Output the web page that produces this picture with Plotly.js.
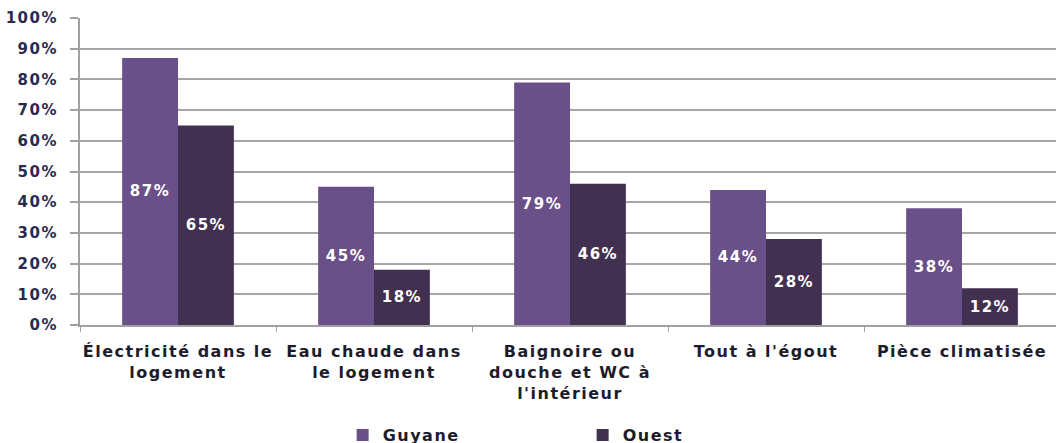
<!DOCTYPE html>
<html>
<head>
<meta charset="utf-8">
<script src="https://cdn.plot.ly/plotly-3.0.1.min.js"></script>
<style>
html, body { margin: 0; padding: 0; overflow: hidden; background: #fff; }
#chart { width: 1060px; height: 455px; }
#chart text { letter-spacing: 1.5px; }
</style>
</head>
<body>
<div id="chart"></div>
<script>
const categories = [
  "Électricité dans le<br>logement",
  "Eau chaude dans<br>le logement",
  "Baignoire ou<br>douche et WC à<br>l'intérieur",
  "Tout à l'égout",
  "Pièce climatisée"
];
const guyane = [87, 45, 79, 44, 38];
const ouest = [65, 18, 46, 28, 12];
const yTickVals = [0, 10, 20, 30, 40, 50, 60, 70, 80, 90, 100];
const yTickText = ["0%", "10%", "20%", "30%", "40%", "50%", "60%", "70%", "80%", "90%", "100%"];

const labelFont = { family: "DejaVu Sans", size: 15, color: "#ffffff", weight: "bold" };

const traces = [
  {
    type: "bar", name: "Guyane", x: categories, y: guyane,
    marker: { color: "#6A5088" },
    text: guyane.map(v => v + "%"), textposition: "inside", insidetextanchor: "middle",
    textfont: labelFont, hoverinfo: "skip", cliponaxis: false
  },
  {
    type: "bar", name: "Ouest", x: categories, y: ouest,
    marker: { color: "#41304F" },
    text: ouest.map(v => v + "%"), textposition: "inside", insidetextanchor: "middle",
    textfont: labelFont, hoverinfo: "skip", cliponaxis: false
  }
];

const layout = {
  width: 1060, height: 455,
  margin: { l: 80, r: 0, t: 18, b: 130 },
  paper_bgcolor: "#ffffff", plot_bgcolor: "#ffffff",
  font: { family: "DejaVu Sans", size: 16, color: "#1c1c2c" },
  barmode: "group", bargap: 0.43, bargroupgap: 0,
  showlegend: true,
  legend: {
    orientation: "h", x: 0.268, xanchor: "left", y: -0.3583, yanchor: "middle",
    entrywidth: 195, entrywidthmode: "pixels", traceorder: "normal",
    font: { family: "DejaVu Sans", size: 16, color: "#1c1c2c", weight: "bold" },
    itemwidth: 30
  },
  xaxis: {
    type: "category", showgrid: false, showline: true, linecolor: "#a0a0a0", linewidth: 2,
    ticks: "outside", ticklen: 5, tickcolor: "#a0a0a0", tickwidth: 1, tickson: "boundaries",
    tickfont: { family: "DejaVu Sans", size: 16, color: "#1c1c2c", weight: "bold" },
    ticklabelstandoff: 11, fixedrange: true
  },
  yaxis: {
    range: [0, 100], tickvals: yTickVals, ticktext: yTickText,
    showgrid: true, gridcolor: "#a6a6a6", gridwidth: 2,
    showline: true, linecolor: "#a0a0a0", linewidth: 2,
    ticks: "outside", ticklen: 8, tickcolor: "#a0a0a0", tickwidth: 2,
    tickfont: { family: "DejaVu Sans", size: 15, color: "#2a2a50", weight: "bold" },
    ticklabelstandoff: 9, zeroline: false, fixedrange: true
  }
};

Plotly.newPlot("chart", traces, layout, { staticPlot: true, displayModeBar: false });
</script>
</body>
</html>
